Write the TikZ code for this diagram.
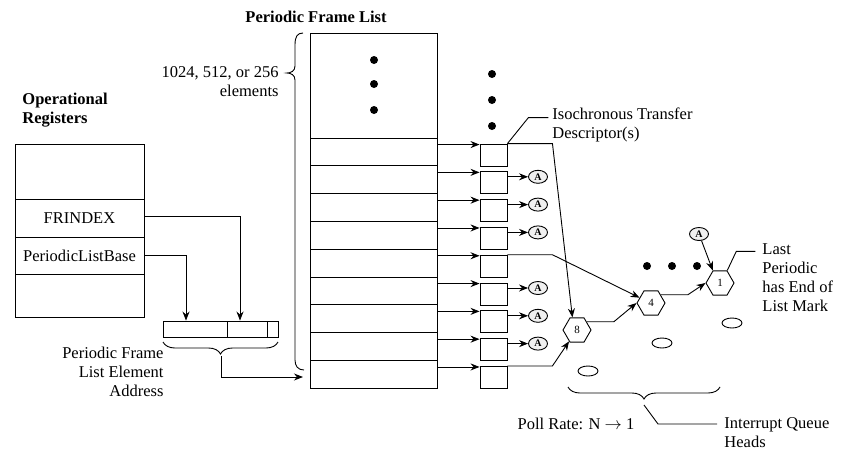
\documentclass[tikz,border=0pt]{standalone}
\usepackage{fontspec}
\setmainfont{Liberation Serif}
\usetikzlibrary{arrows.meta,shapes.geometric,decorations.pathreplacing,calc}
\begin{document}
\begin{tikzpicture}[x=1pt,y=-1pt,
 line width=0.9pt,
 arr/.style={-{Stealth[length=9pt,width=7pt]}},
 lbl/.style={font=\fontsize{16.5}{19}\selectfont, inner sep=0pt},
 bold/.style={font=\bfseries\fontsize{16.5}{19}\selectfont, inner sep=0pt},
 reg/.style={draw, minimum width=129pt, inner sep=0pt, font=\fontsize{16.5}{19}\selectfont},
 cell/.style={draw, minimum width=127pt, minimum height=27.8pt, inner sep=0pt},
 tdbox/.style={draw, minimum width=27pt, minimum height=22pt, inner sep=0pt},
 abox/.style={draw, ellipse, fill=gray!12, minimum width=19pt, minimum height=13pt, inner sep=0pt, font=\bfseries\fontsize{10}{10}\selectfont},
 qh/.style={draw, regular polygon, regular polygon sides=6, minimum size=28pt, inner sep=0pt, font=\fontsize{11}{11}\selectfont},
 ring/.style={draw, ellipse, minimum width=20pt, minimum height=10pt, inner sep=0pt},
 bigdot/.style={fill, circle, minimum size=8pt, inner sep=0pt},
 adbox/.style={draw, minimum height=16pt, inner sep=0pt}
]
\useasboundingbox (0,0) rectangle (861,469);

% titles
\node[bold] (title) at (316,17) {Periodic Frame List};
\node[bold, anchor=west, align=left] (oplab) at (22,110) {Operational\\Registers};
\node[lbl, anchor=east, align=right] (cnt) at (279,82) {1024, 512, or 256\\elements};
\node[lbl, anchor=east, align=right] (adlab) at (164,372) {Periodic Frame\\List Element\\Address};

% operational registers
\node[reg, minimum height=55pt] (r0) at (79.5,171.5) {};
\node[reg, minimum height=38pt] (r1) at (79.5,218) {FRINDEX};
\node[reg, minimum height=37pt] (r2) at (79.5,255.5) {PeriodicListBase};
\node[reg, minimum height=43pt] (r3) at (79.5,295.5) {};

% address
\node[adbox, minimum width=64pt] (ad1) at (195,329) {};
\node[adbox, minimum width=40pt] (ad2) at (247,329) {};
\node[adbox, minimum width=11pt] (ad3) at (272.5,329) {};
\draw[arr] ([yshift=2pt]r1.east) -| ([xshift=-7pt]ad2.north);
\draw[arr] (r2.east) -| ([xshift=-9pt]ad1.north);
\draw[decorate, decoration={brace, mirror, amplitude=12pt}] (163,342) -- (278,342);
\coordinate (adtip) at (221,356);
\coordinate (listin) at (303,377);
\draw[arr] (adtip) |- (listin);

% big brace
\draw (303,33) .. controls (297,33) and (295,37) .. (295,45) -- (295,66)
  .. controls (295,71) and (291,73) .. (287,73)
  .. controls (291,73) and (295,75) .. (295,80) -- (295,360)
  .. controls (295,366) and (298,370) .. (304,370);

% frame list
\node[cell, minimum height=105pt] (ftop) at (373.5,85.5) {};
\foreach \y [count=\k] in {60,84,110} \node[bigdot] (ld\k) at (374,\y) {};
\foreach \y [count=\k] in {74,100,126} \node[bigdot] (td\k) at (492,\y) {};
\foreach \i in {1,...,9} {
  \node[cell] (row\i) at (373.5,{138+27.8*(\i-1)+13.9}) {};
  \node[tdbox] (t\i) at (493.5,{138+27.8*(\i-1)+17}) {};
  \draw[arr] ([yshift=-1pt]t\i.north west -| row\i.east) -- ([yshift=-1pt]t\i.north west);
}
\foreach \i in {2,3,4,6,7,8} {
  \node[abox] (a\i) at (538,{138+27.8*(\i-1)+11}) {A};
  \draw[arr] (t\i.east |- a\i) -- (a\i);
}

% queue heads
\node[qh] (h8) at (577,330) {8};
\node[qh] (h4) at (651,303) {4};
\node[qh] (h1) at (720,283) {1};
\node[abox] (atop) at (699,234) {A};
\foreach \x [count=\k] in {647,672,697} \node[bigdot] (hd\k) at (\x,266) {};
\node[ring] (e1) at (732,323) {};
\node[ring] (e2) at (662,343) {};
\node[ring] (e3) at (588,371) {};

\draw[arr] (t1.north east) -- ++(45,0) -- (h8.110);
\draw[arr] (t5.north east) -- ++(45,0) -- (h4.155);
\draw[arr] (t9.north east) -- ++(45,0) -- (h8.235);
\draw[arr] (h8.40) -- ++(27,0) -- (h4.west);
\draw[arr] (h4.40) -- ++(27,0) -- (h1.west);
\draw[arr] (atop) -- (h1.120);

% labels with leaders
\node[lbl, anchor=west, align=left] (isolab) at (552,125) {Isochronous Transfer\\Descriptor(s)};
\draw (t1.north east) -- ++(21,-26) -- ++(20,0);
\node[lbl, anchor=west, align=left] (lastlab) at (762,278) {Last\\Periodic\\has End of\\List Mark};
\draw (h1.60) -- ++(9,-19) -- ++(19,0);

\draw[decorate, decoration={brace, mirror, amplitude=12pt}] (568,387) -- (720,387);
\coordinate (qtip) at (644,405);
\draw (qtip) -- ++(14,19) -- ++(59,0);
\node[lbl, anchor=west, align=left] (iqlab) at (724,432.5) {Interrupt Queue\\Heads};
\node[lbl] (poll) at (576,424) {Poll Rate: N $\rightarrow$ 1};
\end{tikzpicture}
\end{document}
